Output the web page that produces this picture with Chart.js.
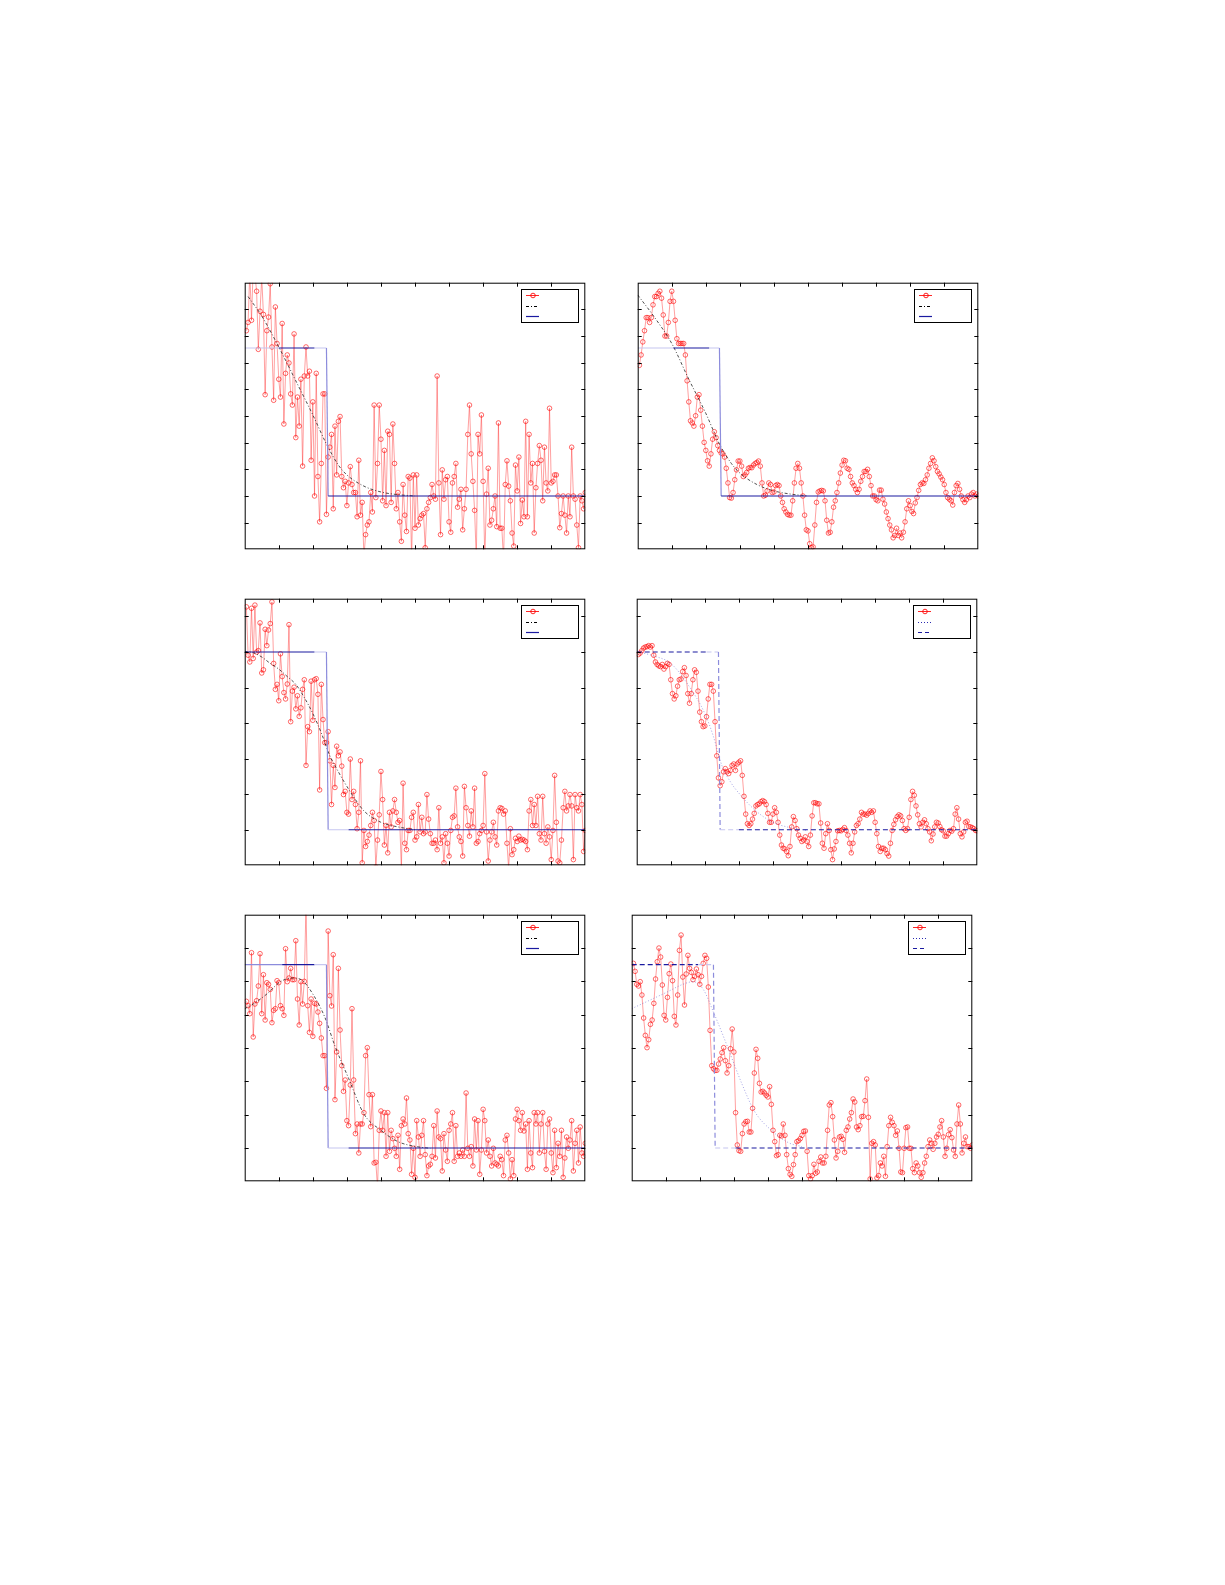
<!DOCTYPE html>
<html>
<head>
<meta charset="utf-8">
<script src="https://cdn.jsdelivr.net/npm/chart.js@4.4.1/dist/chart.umd.min.js"></script>
<style>
  html, body { margin: 0; padding: 0; background: #fff; }
  body { width: 1225px; height: 1585px; position: relative; overflow: hidden; }
  canvas { position: absolute; }
</style>
</head>
<body>
<canvas id="p1"></canvas>
<canvas id="p2"></canvas>
<canvas id="p3"></canvas>
<canvas id="p4"></canvas>
<canvas id="p5"></canvas>
<canvas id="p6"></canvas>
<script>
// measured samples, x = 1..200
const P1_RED = [
  8.20, 8.51, 10.4, 8.59, 10.6, 10.3, 9.68, 7.50, 8.93, 10.2,
  8.81, 5.80, 8.20, 8.71, 9.96, 7.59, 5.59, 9.09, 7.72, 6.38,
  5.71, 8.47, 4.70, 6.60, 7.29, 6.99, 5.83, 5.41, 8.08, 4.19,
  5.71, 4.62, 6.38, 3.12, 6.50, 7.59, 6.50, 6.68, 3.34, 5.53,
  2.00, 6.60, 2.73, 1.03, 3.22, 5.83, 5.83, 1.31,
  3.46, 3.83, 4.31, 1.52, 4.62, 2.79, 4.80, 4.98, 2.73, 2.31, 2.55, 1.64, 2.49, 3.10,
  2.43, 2.13, 2.13, 1.22, 3.34, 1.28, 1.76, -0.3, 0.55, 0.91, 1.03, 2.13, 1.40, 5.41,
  1.94, 3.22, 5.41, 4.13, 1.82, 3.71, 1.64, 4.43, 4.31, 1.76, 4.70, 3.22, 1.52, 2.13,
  1.03, 0.30, 2.43, 1.28, 0.67, 2.73, 2.67, -0.4, 2.79, 0.79, 2.79, 0.91, 1.15, 1.28,
  1.34, 0.06, 1.52, 1.76, 1.94, 2.43, 2.00, 1.88, 6.50,
  2.49, 0.55, 2.98, 1.88, 2.61, 2.73, 1.03, 0.64, 2.49, 2.73, 3.22, 1.58, 1.88, 2.25,
  0.73, 1.52, 2.25, 4.31, 5.41,
  3.58, 2.55, 1.46, -0.4, 4.31, 3.58, 5.04, 2.55, -0.4, 2.07, 3.04, 0.91, 1.09, 1.52,
  2.00, 0.85, 4.74,
  0.79, 0.79, -0.4, 2.43, 3.32, 2.37, 1.82, 0.61, 0.12, 3.16, 2.19, 3.46, 0.97, 1.85,
  1.22, 4.80, 1.22, 4.31, 2.49, 3.22, 0.61, 2.31, 3.22, 3.89, 3.34, 1.82, 3.83, 2.49,
  2.19, 5.29,
  2.49, 2.55, 2.79, 2.79, 2.00, 0.81, 1.34, 2.00, 1.28, 0.61, 2.00, 1.22, 3.83, 2.00,
  1.88, 0.91, 0.06, 2.00, 1.82, 1.52, 2.13
];
const P1_FIT_X = [2, 10, 20, 30, 40, 48, 55, 60, 70, 80, 90, 100];
const P1_FIT_Y = [9.48, 8.75, 7.59, 6.32, 5.04, 3.95, 3.16, 2.79, 2.37, 2.15, 2.05, 2.00];
const P1_STEP_X = [0, 20, 41, 48, 49, 200];
const P1_STEP_Y = [7.55, 7.55, 7.55, 7.55, 2, 2];

const P2_RED = [
  6.90, 7.29, 7.78, 8.20, 8.69, 8.69, 8.51, 8.69, 9.17, 9.48,
  9.48, 9.60, 9.68, 9.42, 8.79, 8.00, 8.00, 8.51, 9.30, 9.68,
  9.30, 8.59, 7.90, 7.72, 7.72, 7.72, 7.72, 7.29, 6.32, 5.53,
  4.82, 4.74, 4.62, 5.01, 5.71, 5.80, 5.22, 4.62, 4.01, 3.71,
  3.32, 3.12, 3.58, 4.13, 4.41, 4.19, 3.89, 3.71, 3.61, 3.58,
  3.46, 3.04, 2.49, 1.94, 1.92, 2.13, 2.61, 2.98, 3.31, 3.31,
  3.12, 2.73, 2.79, 2.88, 3.04, 3.07, 3.06, 3.16, 3.22, 3.26,
  3.31, 3.12, 2.49, 2.00, 2.03, 2.19, 2.49, 2.43, 2.13, 2.15,
  2.39, 2.43, 2.39, 2.00, 1.76, 1.52, 1.40, 1.31, 1.28, 1.28,
  1.82, 2.49, 3.04, 3.22, 3.04, 2.49, 2.00, 1.28, 0.73, 0.69,
  0.21, 0.06, 0.09, 0.91, 1.76, 2.15, 2.19, 2.21, 2.19, 1.82,
  1.09, 0.61, 0.64, 1.03, 1.58, 1.82, 2.13, 2.49, 2.86, 3.16,
  3.34, 3.32, 3.04, 3.00, 2.73, 2.49, 2.39, 2.25, 2.13, 2.25,
  2.55, 2.73, 2.92, 2.92, 3.00, 2.73, 2.39, 2.00, 2.00,
  1.86, 1.82, 2.22, 2.22, 1.88, 1.70, 1.40, 1.15, 0.91,
  0.73, 0.43, 0.52, 0.79, 0.52, 0.61, 0.43, 0.64, 1.03,
  1.52, 1.82, 1.64, 1.42, 1.34, 1.74, 1.94, 2.21, 2.43,
  2.49, 2.47, 2.61, 2.79, 3.04, 3.22, 3.43, 3.32, 3.10, 2.92,
  2.83, 2.71, 2.61, 2.43, 2.13, 1.94, 1.88, 1.82, 1.66,
  2.13, 2.39, 2.47, 2.25, 2.00, 1.86, 1.76, 1.86, 2.00, 1.94, 2.07, 2.13,
  2.00, 2.07, 2.00
];
const P2_FIT_X = [0, 10, 20, 30, 40, 48, 55, 60, 70, 80, 90, 100];
const P2_FIT_Y = [9.54, 8.69, 7.72, 6.38, 5.10, 3.95, 3.22, 2.86, 2.43, 2.19, 2.07, 2.00];
const P2_STEP_X = [0, 21, 42, 48, 49, 200];
const P2_STEP_Y = [7.55, 7.55, 7.55, 7.55, 2, 2];

const P3_RED = [
  7.27, 5.91, 5.72, 7.23, 5.82, 7.32, 6.00, 6.04, 6.82, 5.41,
  5.50, 6.64, 6.18, 6.62, 6.80, 7.41, 5.68, 4.95, 5.09, 4.63,
  5.95, 5.31, 4.86, 4.68, 5.10, 6.77, 4.04, 4.90, 5.01, 4.40,
  4.77, 4.19, 4.43, 4.95, 5.22, 2.81, 3.90, 3.76, 5.18, 4.08,
  5.22, 5.25, 4.81, 2.12, 5.09, 4.10, 3.45, 3.45,
  3.76, 2.94, 1.71, 2.81, 2.19, 3.35, 3.08, 3.19, 2.79, 1.99,
  2.08, 1.49, 1.44, 2.99, 1.85, 2.08, 1.71, 1.03, 1.49, 2.94,
  0.07, 0.98, 0.53, 0.67, 0.85, 1.12, 1.49, 1.26, -0.05, 0.71,
  1.42, 2.64, 1.85, 0.57, 1.12, 0.35, 1.49, 1.08, 1.53, 1.85,
  1.49, 1.21, 1.26, -0.1, 2.31, 0.62, 0.44, 0.98, 0.98, 1.35,
  1.49, 0.71, 0.80, 1.71, 0.94, 1.35, 0.89, 0.94, 1.99, 1.30,
  0.89, 0.62, 0.62, 0.71, 0.44, 1.62, 0.62, 0.80, 0.07, 0.89,
  0.62, 0.26, 0.98, 1.35, 1.39, 2.17, 1.08, 0.80, 0.67, 0.26,
  2.22, 1.62, 1.12, 0.82, 1.53, 1.08, 2.17, 0.62, 0.67, 0.89,
  0.98, 1.12, 2.58, 0.94, 0.12, 0.71, 0.94, 1.21, 0.80, 0.57,
  1.53, 1.62, 1.60, 1.44, 1.53, 0.62, -0.1, 1.03, 0.30, 0.44,
  0.76, 0.67, 0.82, 0.71, 0.73, 0.71, 0.67, 0.44, 1.53, 1.85,
  1.12, 1.71, 1.12, 1.94, 0.89, 0.71, 1.94, 0.89, 0.62, 1.08,
  0.80, 0.16, 0.98, 2.53, 1.21, 0.12, 0.07, 0.71, 1.62, 2.08,
  1.53, 1.67, 1.99, 1.67, 0.16, 1.99, 1.62, 1.53, 1.99, 1.71,
  0.39, 0.98
];
const P3_FIT_X = [0, 5, 10, 15, 20, 25, 30, 35, 40, 45, 50, 55, 60, 65, 70, 80, 90, 100];
const P3_FIT_Y = [6.02, 5.98, 5.86, 5.68, 5.52, 5.31, 5.09, 4.72, 4.27, 3.72, 3.08, 2.63, 2.22, 1.85, 1.53, 1.21, 1.08, 1.00];
const P3_STEP_X = [0, 41, 48, 49, 61, 200];
const P3_STEP_Y = [6, 6, 6, 1, 1, 1];

const P4_RED = [
  5.93, 5.97, 6.04, 6.11, 6.14, 6.15, 6.18, 6.14, 6.18, 5.91,
  5.72, 5.65, 5.61, 5.59, 5.65, 5.52, 5.59, 5.68, 5.65, 5.22,
  4.83, 4.68, 4.77, 5.04, 5.22, 5.24, 5.45, 5.56, 5.34, 4.83,
  4.56, 4.83, 5.22, 5.50, 5.43, 4.90, 4.31, 4.04, 3.90, 3.92,
  4.18, 4.68, 5.09, 5.09, 4.90, 4.04, 3.08, 2.46,
  2.24, 2.35, 2.63, 2.72, 2.63, 2.58, 2.67, 2.81, 2.85, 2.67,
  2.85, 2.90, 2.94, 2.53, 1.94, 1.44, 1.17, 1.12, 1.17, 1.30,
  1.46, 1.67, 1.71, 1.73, 1.79, 1.82, 1.79, 1.71, 1.46, 1.21,
  1.21, 1.44, 1.62, 1.49, 1.21, 0.85, 0.57, 0.48, 0.46, 0.39,
  0.27, 0.53, 1.08, 1.37, 1.26, 1.03, 0.85, 0.76, 0.67, 0.71,
  0.80, 0.67, 0.53, 0.85, 1.39, 1.76, 1.76, 1.73, 1.73, 1.19,
  0.62, 0.48, 0.89, 1.17, 0.98, 0.44, 0.16, 0.46, 0.67, 0.97,
  0.98, 0.97, 1.01, 1.06, 0.98, 0.85, 0.62, 0.35, 0.62, 0.94,
  1.12, 1.17, 1.30, 1.49, 1.44, 1.44, 1.41, 1.46, 1.53, 1.49,
  1.53, 1.21, 0.89, 0.53, 0.39, 0.48, 0.48, 0.44, 0.33, 0.26,
  0.62, 0.98, 1.15, 1.28, 1.37, 1.42, 1.39, 1.26, 1.03, 0.98,
  1.03, 1.35, 1.85, 2.08, 1.97, 1.67, 1.42, 1.17, 1.08, 1.21,
  1.28, 1.17, 1.03, 0.94, 0.69, 0.88, 1.08, 1.21, 1.19, 1.09,
  1.00, 0.97, 0.82, 0.82, 0.89, 0.98, 0.96, 1.03, 1.44, 1.62,
  1.30, 0.89, 0.80, 0.94, 1.21, 1.24, 1.09, 1.08, 1.06, 1.03,
  0.98, 0.97
];
const P4_FIT_X = [1, 10, 20, 30, 40, 45, 50, 55, 60, 70, 80, 90, 100];
const P4_FIT_Y = [6.00, 5.89, 5.68, 5.09, 4.27, 3.63, 2.81, 2.35, 2.03, 1.53, 1.21, 1.06, 0.98];
const P4_STEP_X = [0, 41, 48, 49, 60, 200];
const P4_STEP_Y = [6, 6, 6, 1, 1, 1];

const P5_RED = [
  5.40, 5.27, 5.03, 6.86, 4.33, 5.32, 5.42, 5.86, 6.83, 5.03,
  6.20, 4.84, 5.96, 5.91, 5.76, 4.76, 5.13, 5.18, 6.02, 5.96,
  5.27, 5.18, 4.98, 6.98, 5.99, 6.10, 6.39, 6.05, 6.05, 7.22,
  5.47, 4.69, 5.99, 5.32, 6.00, 8.30, 5.27, 4.47, 5.47, 4.35,
  5.34, 5.32, 5.08, 4.74, 4.30, 3.77, 3.77, 2.79,
  7.51, 5.57, 5.26, 6.80, 2.45, 3.88, 6.39, 4.54, 3.47, 2.70,
  3.04, 1.82, 1.67, 2.89, 5.18, 3.04, 1.43, 1.72, 0.85, 1.72,
  1.72, 2.06, 3.77, 4.01, 2.60, 1.64, 2.60, 0.55, 0.57, -0.2,
  1.53, 2.11, 1.53, 2.06, 0.75, 2.06, 0.90, 1.53, 1.28, 0.99,
  0.75, 1.38, 0.36, 1.67, 1.87, 1.72, 2.50, 1.43, 1.24, 0.21,
  0.99, 0.12, 1.82, 1.33, 0.75, 1.38, 1.82, 0.80, 0.17, 0.46,
  0.51, 0.75, 1.67, 0.70, 2.11, 1.33, 1.28, 0.31, 1.43, 0.94,
  0.60, 1.53, 1.72, 2.06, 0.60, 1.67, 0.75, 0.85, 0.75, 0.94,
  0.75, 2.65, 0.99, 0.75, 1.04, 0.46, 1.87, 0.94, 1.82, 0.21,
  0.94, 2.16, 1.82, 0.85, 1.24, 0.75, 0.46, 0.99, 0.55, 0.51,
  0.46, 0.75, 0.65, 0.17, 1.24, 1.38, 0.85, 0.07, 0.65, 0.17,
  1.87, 2.16, 1.82, 1.53, 2.06, 1.51, 1.72, 0.36, 1.82, 0.85,
  0.41, 2.06, 1.72, 2.06, 0.85, 1.72, 2.06, 0.90, 0.36, 1.72,
  1.87, 0.85, 0.26, 1.53, 0.41, 1.14, 0.75, 1.53, 0.12, 0.70,
  1.33, 0.99, 1.24, 1.82, 0.31, 1.14, 1.53, 0.55, 1.63, 0.85,
  0.75, 1.14
];
const P5_FIT_X = [0, 5, 13, 21, 28, 34, 40, 47, 53, 61, 70, 80, 90, 101, 109];
const P5_FIT_Y = [5.18, 5.32, 5.62, 5.99, 6.10, 6.02, 5.62, 4.93, 4.06, 3.09, 2.02, 1.53, 1.19, 1.04, 0.99];
const P5_STEP_X = [0, 22, 41, 48, 49, 61, 200];
const P5_STEP_Y = [6.5, 6.5, 6.5, 6.5, 1, 1, 1];

const P6_RED = [
  6.54, 6.30, 5.91, 5.86, 5.99, 5.59, 4.90, 4.38, 4.01, 4.25,
  4.71, 4.84, 5.34, 6.07, 6.59, 7.00, 6.73, 5.89, 4.98, 4.84,
  5.52, 6.23, 6.52, 6.02, 4.95, 4.69, 5.59, 6.93, 7.39, 6.13,
  5.29, 6.22, 6.78, 6.39, 6.27, 6.05, 6.15, 6.37, 6.20, 5.91,
  6.15, 6.54, 6.78, 6.69, 5.83, 4.53, 3.47, 3.38, 3.33,
  3.33, 3.52, 3.67, 3.86, 4.01, 3.62, 3.25, 3.47, 3.98, 4.57,
  3.88, 2.06, 1.09, 0.92, 0.90, 1.43, 1.72, 1.79, 1.80, 1.48,
  1.48, 2.19, 3.25, 3.96, 3.69, 2.94, 2.68, 2.70, 2.65, 2.58,
  2.53, 2.84, 2.31, 1.53, 1.19, 0.77, 0.80, 1.38, 1.36, 1.72,
  1.38, 0.80, 0.38, 0.21, 0.15, 0.50, 0.80, 1.19, 1.22, 1.28,
  1.38, 1.50, 1.51, 0.90, 0.17, 0.07, 0.17, 0.51, 0.24, 0.28,
  0.60, 0.73, 0.55, 0.55, 0.75, 1.53, 2.29, 2.36, 1.94, 1.24,
  0.70, 0.90, 1.33, 1.35, 1.26, 0.87, 1.53, 1.63, 1.87, 2.06,
  2.47, 2.38, 1.63, 1.55, 1.67, 1.94, 1.95, 2.42, 3.07, 1.92,
  0.07, 1.14, 1.19, 1.09, 0.10, 0.17, 0.55, 0.46, 0.75, 0.15,
  1.04, 1.67, 1.92, 1.77, 1.67, 1.38, 1.51, 0.99, 0.28, 0.26,
  0.99, 1.61, 1.63, 0.99, 0.99, 0.38, 0.26, 0.55, 0.46, 0.26,
  0.12, 0.26, 0.55, 0.75, 1.04, 1.24, 1.14, 0.96, 1.14, 1.33,
  1.41, 1.63, 1.82, 1.33, 0.75, 0.99, 1.40, 1.55, 1.31, 0.94,
  0.75, 1.72, 2.29, 1.72, 0.85, 1.14, 1.33, 1.04, 1.04, 0.99,
  1.09
];
const P6_FIT_X = [0, 10, 20, 30, 36, 42, 48, 55, 65, 72, 82, 92, 100];
const P6_FIT_Y = [5.18, 5.42, 5.66, 5.91, 5.99, 5.76, 5.08, 4.20, 2.89, 2.11, 1.53, 1.16, 1.04];
const P6_STEP_X = [0, 39, 48, 49, 61, 200];
const P6_STEP_Y = [6.5, 6.5, 6.5, 1, 1, 1];

// the step line in the source is drawn lighter in places
const SHADE = { dark: "#1a1aa0", mid: "#8c8cdc", light: "#c6c6f0" };
const P1_SHADE = ["light", "dark", "light", "mid", "dark"];
const P2_SHADE = ["light", "dark", "light", "mid", "dark"];
const P3_SHADE = ["dark", "light", "mid", "light", "dark"];
const P4_SHADE = ["dark", "light", "mid", "light", "dark"];
const P5_SHADE = ["mid", "dark", "light", "mid", "light", "dark"];
const P6_SHADE = ["dark", "light", "mid", "light", "dark"];

const PLOT_W = 348;
const PLOT_H = 274;
const TICK_LEN = 4;
const X_MAX = 200;
const X_STEP = 20;

const RED_LINE = "rgba(255,30,30,0.6)";
const RED_MARK = "rgba(255,0,0,0.85)";
const DASHDOT = [3, 2, 1, 2];
const DOTTED = [1, 2];
const DASHED = [5, 3];

const panels = [
  { id: "p1", left: 241, top: 279, yMax: 10, red: P1_RED, fitX: P1_FIT_X, fitY: P1_FIT_Y, fit: "dashdot", stepX: P1_STEP_X, stepY: P1_STEP_Y, shade: P1_SHADE, step: "solid" },
  { id: "p2", left: 634, top: 279, yMax: 10, red: P2_RED, fitX: P2_FIT_X, fitY: P2_FIT_Y, fit: "dashdot", stepX: P2_STEP_X, stepY: P2_STEP_Y, shade: P2_SHADE, step: "solid" },
  { id: "p3", left: 241, top: 595, yMax: 7.5, red: P3_RED, fitX: P3_FIT_X, fitY: P3_FIT_Y, fit: "dashdot", stepX: P3_STEP_X, stepY: P3_STEP_Y, shade: P3_SHADE, step: "solid" },
  { id: "p4", left: 633, top: 595, yMax: 7.5, red: P4_RED, fitX: P4_FIT_X, fitY: P4_FIT_Y, fit: "dotted", stepX: P4_STEP_X, stepY: P4_STEP_Y, shade: P4_SHADE, step: "dashed" },
  { id: "p5", left: 241, top: 911, yMax: 8, red: P5_RED, fitX: P5_FIT_X, fitY: P5_FIT_Y, fit: "dashdot", stepX: P5_STEP_X, stepY: P5_STEP_Y, shade: P5_SHADE, step: "solid" },
  { id: "p6", left: 628, top: 911, yMax: 8, red: P6_RED, fitX: P6_FIT_X, fitY: P6_FIT_Y, fit: "dotted", stepX: P6_STEP_X, stepY: P6_STEP_Y, shade: P6_SHADE, step: "dashed" },
];


// box + inward ticks on all four sides
const frameTicks = {
  id: "frameTicks",
  afterDatasetsDraw(chart) {
    const { ctx, chartArea: a, scales } = chart;
    ctx.save();
    ctx.strokeStyle = "#000";
    ctx.lineWidth = 1;
    ctx.beginPath();
    for (let v = X_STEP; v < scales.x.max - 1e-6; v += X_STEP) {
      const px = Math.round(scales.x.getPixelForValue(v)) + 0.5;
      ctx.moveTo(px, a.top);
      ctx.lineTo(px, a.top + TICK_LEN);
      ctx.moveTo(px, a.bottom);
      ctx.lineTo(px, a.bottom - TICK_LEN);
    }
    for (let v = scales.y.min + 1; v < scales.y.max - 1e-6; v += 1) {
      const py = Math.round(scales.y.getPixelForValue(v)) + 0.5;
      ctx.moveTo(a.left, py);
      ctx.lineTo(a.left + TICK_LEN, py);
      ctx.moveTo(a.right, py);
      ctx.lineTo(a.right - TICK_LEN, py);
    }
    ctx.stroke();
    ctx.strokeRect(a.left + 0.5, a.top + 0.5, a.width - 1, a.height - 1);
    ctx.restore();
  }
};


// matlab style legend box, no labels
const boxLegend = {
  id: "boxLegend",
  afterDraw(chart, args, opts) {
    const { ctx, chartArea: a } = chart;
    const w = 57, h = 33;
    const x0 = Math.round(a.right - 7 - w), y0 = Math.round(a.top + 6);
    ctx.save();
    ctx.fillStyle = "#fff";
    ctx.fillRect(x0, y0, w, h);
    ctx.strokeStyle = "#000";
    ctx.lineWidth = 1;
    ctx.strokeRect(x0 + 0.5, y0 + 0.5, w, h);
    opts.rows.forEach((row, i) => {
      const y = Math.round(y0 + 6 + i * 10.7) + 0.5;
      ctx.strokeStyle = row.color;
      ctx.lineWidth = row.width;
      ctx.setLineDash(row.dash);
      ctx.beginPath();
      ctx.moveTo(x0 + 5, y);
      ctx.lineTo(x0 + 18, y);
      ctx.stroke();
      if (row.marker) {
        ctx.setLineDash([]);
        ctx.beginPath();
        ctx.arc(x0 + 12, y, 2.3, 0, Math.PI * 2);
        ctx.stroke();
      }
    });
    ctx.restore();
  }
};


function makeChart(p) {

  const canvas = document.getElementById(p.id);
  canvas.width = PLOT_W + 2;
  canvas.height = PLOT_H + 2;
  canvas.style.left = (p.left - 1) + "px";
  canvas.style.top = (p.top - 1) + "px";

  const dashedStep = p.step === "dashed";
  const fitStyle = p.fit === "dotted"
    ? { color: "rgba(70,70,200,0.55)", width: 0.9, dash: DOTTED }
    : { color: "#222", width: 0.8, dash: DASHDOT };

  const stepDs = {
    data: p.stepX.map((x, i) => ({ x: x, y: p.stepY[i] })),
    borderColor: SHADE.dark,
    borderWidth: 1.2,
    borderDash: dashedStep ? DASHED : [],
    pointRadius: 0,
    clip: 0,
    segment: {
      borderColor: (c) => SHADE[p.shade[c.p0DataIndex]]
    }
  };

  const fitDs = {
    data: p.fitX.map((x, i) => ({ x: x, y: p.fitY[i] })),
    borderColor: fitStyle.color,
    borderWidth: fitStyle.width,
    borderDash: fitStyle.dash,
    cubicInterpolationMode: "monotone",
    pointRadius: 0,
    clip: 0
  };

  const redDs = {
    data: p.red.map((v, i) => ({ x: i + 1, y: v })),
    borderColor: RED_LINE,
    borderWidth: 0.7,
    pointRadius: 2.3,
    pointBorderColor: RED_MARK,
    pointBorderWidth: 0.7,
    pointBackgroundColor: "rgba(0,0,0,0)",
    tension: 0,
    clip: 0
  };

  const legendRows = [
    { color: RED_MARK, width: 1, dash: [], marker: true },
    p.fit === "dotted"
      ? { color: "#2a2ab0", width: 1, dash: DOTTED }
      : { color: "#000", width: 1, dash: DASHDOT },
    dashedStep
      ? { color: SHADE.dark, width: 1.2, dash: [4, 3] }
      : { color: SHADE.dark, width: 1.2, dash: [] },
  ];

  return new Chart(canvas, {
    type: "line",
    data: { datasets: [stepDs, fitDs, redDs] },
    options: {
      responsive: false,
      animation: false,
      events: [],
      layout: { padding: 1 },
      scales: {
        x: { type: "linear", min: 0, max: X_MAX, display: false },
        y: { type: "linear", min: 0, max: p.yMax, display: false }
      },
      plugins: {
        legend: { display: false },
        tooltip: { enabled: false },
        boxLegend: { rows: legendRows }
      }
    },
    plugins: [frameTicks, boxLegend]
  });
}


panels.forEach(makeChart);
</script>
</body>
</html>
